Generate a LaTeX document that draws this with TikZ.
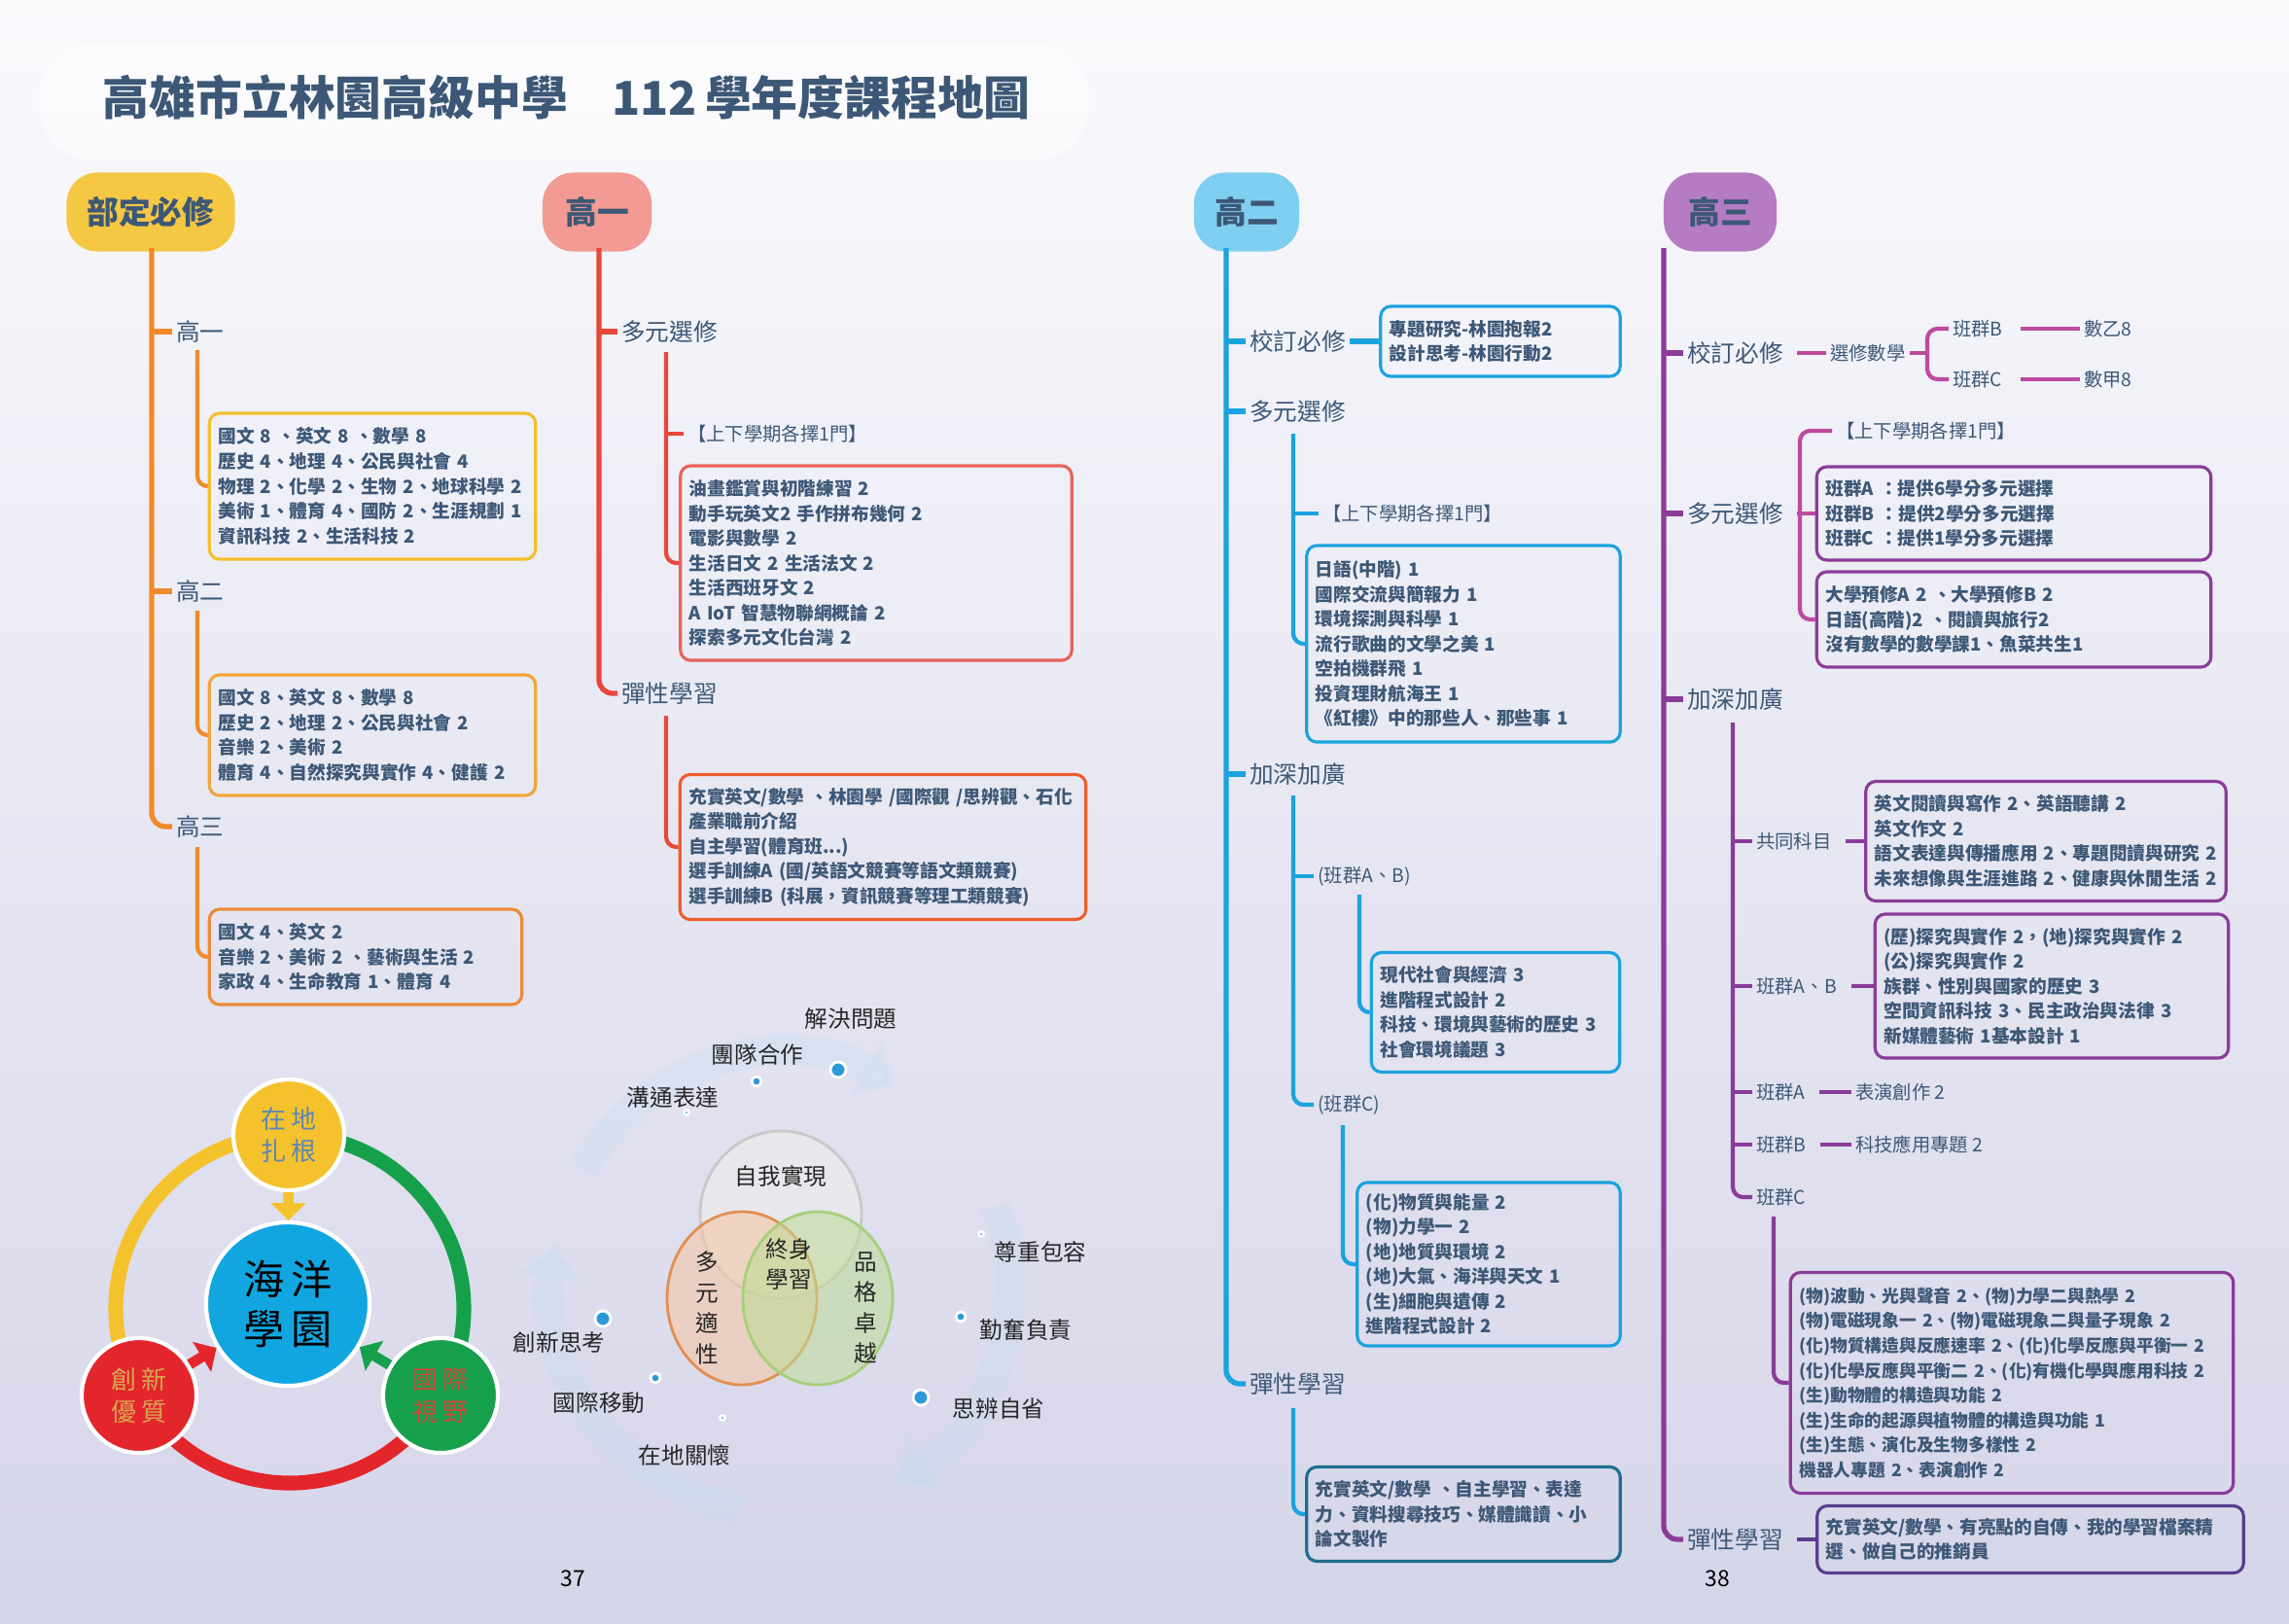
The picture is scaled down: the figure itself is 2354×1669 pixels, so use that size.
\documentclass[tikz,border=0pt]{standalone}
\usepackage{fontspec}
\setmainfont{Noto Sans CJK TC}
\usepackage{xcolor}
\usepackage{tikz}
\usetikzlibrary{arrows.meta,positioning,calc}
\definecolor{ink}{HTML}{3D5876}
\definecolor{bgtop}{HTML}{FAFAFD}
\definecolor{bgbot}{HTML}{D5D5E9}
\definecolor{bdfill}{HTML}{F5C843}
\definecolor{bdline}{HTML}{F08A2B}
\definecolor{bdc1}{HTML}{F2BF2E}
\definecolor{bdc2}{HTML}{F2A53C}
\definecolor{bdc3}{HTML}{EE8A37}
\definecolor{g1fill}{HTML}{F29A93}
\definecolor{g1line}{HTML}{E7483C}
\definecolor{g1c1}{HTML}{E9625B}
\definecolor{g1c2}{HTML}{EC5E2C}
\definecolor{g2fill}{HTML}{80CFF0}
\definecolor{g2line}{HTML}{1BA3DE}
\definecolor{g2deep}{HTML}{1F6E8E}
\definecolor{g3fill}{HTML}{B57CC3}
\definecolor{g3line}{HTML}{8A3C99}
\definecolor{g3pink}{HTML}{BE4AA0}
\definecolor{g3deep}{HTML}{5A3C8E}
\definecolor{coreYel}{HTML}{F4C22C}
\definecolor{coreBlue}{HTML}{12A6E1}
\definecolor{coreRed}{HTML}{E3262B}
\definecolor{coreGrn}{HTML}{16A04C}
\definecolor{locblue}{HTML}{5B86B8}
\definecolor{innogold}{HTML}{D9A653}
\definecolor{globred}{HTML}{CC4A3C}
\definecolor{swirlblue}{HTML}{B9DDF0}
\definecolor{vtopline}{HTML}{C9C9C9}
\definecolor{vtopfill}{HTML}{EDEDEB}
\definecolor{vleftline}{HTML}{E28F52}
\definecolor{vleftfill}{HTML}{F6C6A0}
\definecolor{vrightline}{HTML}{A7CF7C}
\definecolor{vrightfill}{HTML}{BEDC95}
\definecolor{dotblue}{HTML}{2C9AD9}
\newcommand{\cmtitle}{\fontsize{13.6}{15}\selectfont\bfseries}
\newcommand{\cmbadge}{\fontsize{9.3}{10}\selectfont\bfseries}
\newcommand{\cmbranch}{\fontsize{7}{8}\selectfont}
\newcommand{\cmleaf}{\fontsize{5.5}{6.5}\selectfont}
\newcommand{\cmbox}{\fontsize{5.3}{7.26}\selectfont\bfseries}
\newcommand{\cmboxsm}{\fontsize{5.05}{7.26}\selectfont\bfseries}
\newcommand{\cmvenn}{\fontsize{6.7}{9}\selectfont}
\newcommand{\cmcoresm}{\fontsize{7.4}{9.5}\selectfont}
\newcommand{\cmcorebig}{\fontsize{12}{14.5}\selectfont}
\newcommand{\cmpage}{\fontsize{6.5}{7}\selectfont}

\begin{document}
\begin{tikzpicture}[x=0.01cm,y=-0.01cm,
  badge/.style={fill=#1,rounded corners=9pt,minimum height=0.81cm,font=\cmbadge,text=ink},
  branch/.style={anchor=west,inner sep=1pt,font=\cmbranch,text=ink},
  leaf/.style={anchor=west,inner sep=1pt,font=\cmleaf,text=ink},
  cbox/.style={draw=#1,line width=0.9pt,rounded corners=3pt,align=left,
    inner xsep=2.6pt,inner ysep=1pt,font=\cmbox,text=ink},
  trunk/.style={draw=#1,line width=1.5pt,rounded corners=4pt},
  twig/.style={draw=#1,line width=1.2pt,rounded corners=3pt},
  core/.style={circle,fill=#1,draw=white,line width=1.2pt,align=center,inner sep=0pt},
  ring/.style={draw=#1,line width=4.3pt},
  push/.style={draw=#1,line width=3pt,-{Triangle[width=10pt,length=5pt]}},
  swirl/.style={draw=swirlblue,line width=9pt,opacity=0.2,-{Triangle[width=18pt,length=10pt]}},
  venn/.style={font=\cmvenn,text=black!85,align=center},
  bead/.style={fill=dotblue,draw=white,line width=0.8pt}]

  % page and title
  \shade[top color=bgtop,bottom color=bgbot] (0,0) rectangle (2354,1669);
  \useasboundingbox (0,0) rectangle (2354,1669);
  \fill[white,opacity=0.45,rounded corners=16pt] (40,45) rectangle (1120,165);
  \node[anchor=west,inner sep=0pt,font=\cmtitle,text=ink] (title) at (105,100)
    {高雄市立林園高級中學\hspace{13pt}112\,學年度課程地圖};

  % column heads
  \node[badge=bdfill,minimum width=1.73cm] (bd) at (155,218) {部定必修};
  \node[badge=g1fill,minimum width=1.12cm] (g1) at (614,218) {高一};
  \node[badge=g2fill,minimum width=1.08cm] (g2) at (1282,218) {高二};
  \node[badge=g3fill,minimum width=1.16cm] (g3) at (1769,218) {高三};

  % 部定必修
  \coordinate (bdtop) at (156,255);
  \node[branch] (bdy1) at (177,341) {高一};
  \node[branch] (bdy2) at (177,608) {高二};
  \node[branch] (bdy3) at (177,850) {高三};
  \draw[trunk=bdline] (bdtop) |- (bdy3.west);
  \foreach \n in {bdy1,bdy2} \draw[trunk=bdline] (bdtop |- \n.west) -- (\n.west);
  \node[cbox=bdc1,text width=3.17cm,minimum height=1.5cm] (bdbox1) at (383,500)
    {國文 8 、英文 8 、數學 8\\歷史 4、地理 4、公民與社會 4\\物理 2、化學 2、生物 2、地球科學 2\\美術 1、體育 4、國防 2、生涯規劃 1\\資訊科技 2、生活科技 2};
  \node[cbox=bdc2,text width=3.17cm,minimum height=1.24cm] (bdbox2) at (383,756)
    {國文 8、英文 8、數學 8\\歷史 2、地理 2、公民與社會 2\\音樂 2、美術 2\\體育 4、自然探究與實作 4、健護 2};
  \node[cbox=bdc3,text width=3.03cm,minimum height=0.98cm] (bdbox3) at (376,984)
    {國文 4、英文 2\\音樂 2、美術 2 、藝術與生活 2\\家政 4、生命教育 1、體育 4};
  \coordinate (bds1) at (203,360);
  \coordinate (bds2) at (203,628);
  \coordinate (bds3) at (203,871);
  \draw[twig=bdline] (bds1) |- (bdbox1.west);
  \draw[twig=bdline] (bds2) |- (bdbox2.west);
  \draw[twig=bdline] (bds3) |- (bdbox3.west);

  % 高一
  \coordinate (g1top) at (616,255);
  \node[branch] (g1a) at (635,341) {多元選修};
  \node[branch] (g1e) at (635,713) {彈性學習};
  \draw[trunk=g1line] (g1top) |- (g1e.west);
  \draw[trunk=g1line] (g1top |- g1a.west) -- (g1a.west);
  \node[leaf] (g1sel) at (703,446) {【上下學期各擇1門】};
  \node[cbox=g1c1,text width=3.84cm,minimum height=2cm] (g1box1) at (901,579)
    {油畫鑑賞與初階練習 2\\動手玩英文2 手作拼布幾何 2\\電影與數學 2\\生活日文 2 生活法文 2\\生活西班牙文 2\\A IoT 智慧物聯網概論 2\\探索多元文化台灣 2};
  \node[cbox=g1c2,text width=3.99cm,minimum height=1.49cm] (g1box2) at (908,871)
    {充實英文/數學 、林園學 /國際觀 /思辨觀、石化\\產業職前介紹\\自主學習(體育班...)\\選手訓練A (國/英語文競賽等語文類競賽)\\選手訓練B (科展，資訊競賽等理工類競賽)};
  \coordinate (g1s1) at (685,362);
  \coordinate (g1s2) at (685,736);
  \draw[twig=g1line] (g1s1) |- (g1box1.west);
  \draw[twig=g1line] (g1s1 |- g1sel.west) -- (g1sel.west);
  \draw[twig=g1line] (g1s2) |- (g1box2.west);

  % 高二
  \coordinate (g2top) at (1261,255);
  \node[branch] (g2a) at (1281,351) {校訂必修};
  \node[branch] (g2b) at (1281,423) {多元選修};
  \node[branch] (g2d) at (1281,796) {加深加廣};
  \node[branch] (g2e) at (1281,1423) {彈性學習};
  \draw[trunk=g2line] (g2top) |- (g2e.west);
  \foreach \n in {g2a,g2b,g2d} \draw[trunk=g2line] (g2top |- \n.west) -- (\n.west);
  \node[cbox=g2line,text width=2.28cm,minimum height=0.72cm] (g2boxa) at (1543,351)
    {專題研究-林園抱報2\\設計思考-林園行動2};
  \draw[trunk=g2line] (g2a.east) -- (g2boxa.west);
  \node[leaf] (g2sel) at (1356,528) {【上下學期各擇1門】};
  \node[cbox=g2line,text width=3.04cm,minimum height=2.02cm] (g2boxb) at (1505,662)
    {日語(中階) 1\\國際交流與簡報力 1\\環境探測與科學 1\\流行歌曲的文學之美 1\\空拍機群飛 1\\投資理財航海王 1\\《紅樓》中的那些人、那些事 1};
  \coordinate (g2s1) at (1330,446);
  \draw[twig=g2line] (g2s1) |- (g2boxb.west);
  \draw[twig=g2line] (g2s1 |- g2sel.west) -- (g2sel.west);
  \node[leaf] (g2ab) at (1351,901) {(班群A、B)};
  \node[leaf] (g2c) at (1351,1136) {(班群C)};
  \coordinate (g2s2) at (1330,818);
  \draw[twig=g2line] (g2s2) |- (g2c.west);
  \draw[twig=g2line] (g2s2 |- g2ab.west) -- (g2ab.west);
  \node[cbox=g2line,text width=2.37cm,minimum height=1.23cm] (g2boxab) at (1538,1041)
    {現代社會與經濟 3\\進階程式設計 2\\科技、環境與藝術的歷史 3\\社會環境議題 3};
  \coordinate (g2s3) at (1398,920);
  \draw[twig=g2line] (g2s3) |- (g2boxab.west);
  \node[cbox=g2line,text width=2.52cm,minimum height=1.68cm] (g2boxc) at (1531,1300)
    {(化)物質與能量 2\\(物)力學一 2\\(地)地質與環境 2\\(地)大氣、海洋與天文 1\\(生)細胞與遺傳 2\\進階程式設計 2};
  \coordinate (g2s4) at (1381,1157);
  \draw[twig=g2line] (g2s4) |- (g2boxc.west);
  \node[cbox=g2deep,text width=3.04cm,minimum height=0.97cm] (g2boxe) at (1505,1557)
    {充實英文/數學 、自主學習、表達\\力、資料搜尋技巧、媒體識讀、小\\論文製作};
  \coordinate (g2s5) at (1330,1448);
  \draw[twig=g2line] (g2s5) |- (g2boxe.west);

  % 高三
  \coordinate (g3top) at (1711,255);
  \node[branch] (g3a) at (1731,363) {校訂必修};
  \node[branch] (g3b) at (1731,528) {多元選修};
  \node[branch] (g3d) at (1731,719) {加深加廣};
  \node[branch] (g3e) at (1731,1583) {彈性學習};
  \draw[trunk=g3line] (g3top) |- (g3e.west);
  \foreach \n in {g3a,g3b,g3d} \draw[trunk=g3line] (g3top |- \n.west) -- (\n.west);

  \node[leaf] (g3math) at (1878,363) {選修數學};
  \coordinate (g3br) at (1982,363);
  \node[leaf] (g3clsB) at (2004,338) {班群B};
  \node[leaf] (g3clsC) at (2004,390) {班群C};
  \node[leaf] (g3mB) at (2139,338) {數乙8};
  \node[leaf] (g3mC) at (2139,390) {數甲8};
  \draw[twig=g3pink,shorten <=3pt] (g3a.east) -- (g3math.west);
  \draw[twig=g3pink] (g3math.east) -- (g3br);
  \draw[twig=g3pink] (g3clsB.west) -| (g3br) |- (g3clsC.west);
  \draw[twig=g3pink,shorten <=4pt] (g3clsB.east) -- (g3mB.west);
  \draw[twig=g3pink,shorten <=4pt] (g3clsC.east) -- (g3mC.west);

  \coordinate (g3brk) at (1851,528);
  \node[leaf] (g3sel) at (1884,443) {【上下學期各擇1門】};
  \node[cbox=g3line,text width=3.87cm,minimum height=0.96cm] (g3box1) at (2071,528)
    {班群A ：提供6學分多元選擇\\班群B ：提供2學分多元選擇\\班群C ：提供1學分多元選擇};
  \node[cbox=g3line,text width=3.87cm,minimum height=0.98cm] (g3box2) at (2071,637)
    {大學預修A 2 、大學預修B 2\\日語(高階)2 、閱讀與旅行2\\沒有數學的數學課1、魚菜共生1};
  \draw[twig=g3pink,shorten <=3pt] (g3b.east) -- (g3brk);
  \draw[twig=g3pink] (g3sel.west) -| (g3brk) |- (g3box2.west);
  \draw[twig=g3pink] (g3brk) -- (g3box1.west);

  \coordinate (g3s) at (1782,743);
  \node[leaf] (g3com) at (1802,865) {共同科目};
  \node[leaf] (g3ab) at (1802,1014) {班群A、B};
  \node[leaf] (g3A) at (1802,1123) {班群A};
  \node[leaf] (g3B) at (1802,1177) {班群B};
  \node[leaf] (g3C) at (1802,1231) {班群C};
  \draw[twig=g3line] (g3s) |- (g3C.west);
  \foreach \n in {g3com,g3ab,g3A,g3B} \draw[twig=g3line] (g3s |- \n.west) -- (\n.west);
  \node[cbox=g3line,text width=3.52cm,minimum height=1.23cm] (g3boxcom) at (2104,865)
    {英文閱讀與寫作 2、英語聽講 2\\英文作文 2\\語文表達與傳播應用 2、專題閱讀與研究 2\\未來想像與生涯進路 2、健康與休閒生活 2};
  \node[cbox=g3line,text width=3.45cm,minimum height=1.48cm] (g3boxab) at (2110,1014)
    {(歷)探究與實作 2，(地)探究與實作 2\\(公)探究與實作 2\\族群、性別與國家的歷史 3\\空間資訊科技 3、民主政治與法律 3\\新媒體藝術 1基本設計 1};
  \draw[twig=g3line,shorten <=3pt] (g3com.east) -- (g3boxcom.west);
  \draw[twig=g3line,shorten <=3pt] (g3ab.east) -- (g3boxab.west);
  \node[leaf] (g3perf) at (1904,1123) {表演創作 2};
  \node[leaf] (g3tech) at (1904,1177) {科技應用專題 2};
  \draw[twig=g3line,shorten <=3pt] (g3A.east) -- (g3perf.west);
  \draw[twig=g3line,shorten <=3pt] (g3B.east) -- (g3tech.west);
  \node[cbox=g3line,font=\cmboxsm,text width=4.37cm,minimum height=2.27cm] (g3boxc) at (2069,1422)
    {(物)波動、光與聲音 2、(物)力學二與熱學 2\\(物)電磁現象一 2、(物)電磁現象二與量子現象 2\\(化)物質構造與反應速率 2、(化)化學反應與平衡一 2\\(化)化學反應與平衡二 2、(化)有機化學與應用科技 2\\(生)動物體的構造與功能 2\\(生)生命的起源與植物體的構造與功能 1\\(生)生態、演化及生物多樣性 2\\機器人專題 2、表演創作 2};
  \coordinate (g3cs) at (1824,1251);
  \draw[twig=g3line] (g3cs) |- (g3boxc.west);
  \node[cbox=g3deep,text width=4.20cm,minimum height=0.69cm] (g3boxe) at (2088,1583)
    {充實英文/數學、有亮點的自傳、我的學習檔案精\\選、做自己的推銷員};
  \draw[twig=g3deep,shorten <=3pt] (g3e.east) -- (g3boxe.west);

  % school vision circle
  \draw[ring=coreYel] (298,1346) ++(-90:179) arc[start angle=-90,end angle=-210,radius=179];
  \draw[ring=coreGrn] (298,1346) ++(-90:179) arc[start angle=-90,end angle=30,radius=179];
  \draw[ring=coreRed] (298,1346) ++(150:179) arc[start angle=150,end angle=30,radius=179];
  \node[core=coreYel,minimum size=1.14cm,font=\cmcoresm,text=locblue] (loc) at (297,1167) {在\,地\\扎\,根};
  \node[core=coreBlue,minimum size=1.68cm,font=\cmcorebig,text=black] (ocean) at (296,1341) {海\,洋\\學\,園};
  \node[core=coreRed,minimum size=1.18cm,font=\cmcoresm,text=innogold] (inno) at (143,1435) {創\,新\\優\,質};
  \node[core=coreGrn,minimum size=1.18cm,font=\cmcoresm,text=globred] (glob) at (453,1435) {國\,際\\視\,野};
  \draw[push=coreYel] (loc) -- (ocean);
  \draw[push=coreRed] (inno) -- (ocean);
  \draw[push=coreGrn] (glob) -- (ocean);

  % competences around the venn
  \draw[swirl] (803,1320) ++(-150:235) arc[start angle=-150,end angle=-60,radius=235];
  \draw[swirl] (803,1320) ++(-20:235) arc[start angle=-20,end angle=60,radius=235];
  \draw[swirl] (803,1320) ++(100:235) arc[start angle=100,end angle=190,radius=235];
  \draw[draw=vtopline,fill=vtopfill,fill opacity=0.6,line width=0.8pt] (803,1249) ellipse [x radius=83,y radius=86];
  \draw[draw=vleftline,fill=vleftfill,fill opacity=0.55,line width=0.8pt] (763,1335) ellipse [x radius=77,y radius=89];
  \draw[draw=vrightline,fill=vrightfill,fill opacity=0.55,line width=0.8pt] (841,1335) ellipse [x radius=77,y radius=89];
  \node[venn] (selfreal) at (803,1210) {自我實現};
  \node[venn] (lifelong) at (811,1300) {終身\\學習};
  \node[venn] (diverse) at (727,1345) {多\\元\\適\\性};
  \node[venn] (virtue) at (890,1345) {品\\格\\卓\\越};
  \foreach \x/\y/\lab/\nm in {875/1048/解決問題/solve, 779/1084/團隊合作/team,
      692/1129/溝通表達/comm, 1070/1287/尊重包容/respect, 1055/1368/勤奮負責/diligent,
      1027/1449/思辨自省/reflect, 575/1380/創新思考/create, 616/1443/國際移動/mobile,
      704/1497/在地關懷/local}
    \node[venn] (\nm) at (\x,\y) {\lab};
  \foreach \x/\y/\r in {862/1100/8, 778/1112/5, 706/1144/2.5, 1009/1269/2.5, 988/1354/5,
      947/1437/8, 620/1356/8, 674/1417/5, 743/1458/2.5}
    \fill[bead] (\x,\y) circle [radius=\r];

  % page numbers
  \node[font=\cmpage] (pg37) at (589,1623) {37};
  \node[font=\cmpage] (pg38) at (1766,1623) {38};
\end{tikzpicture}
\end{document}
